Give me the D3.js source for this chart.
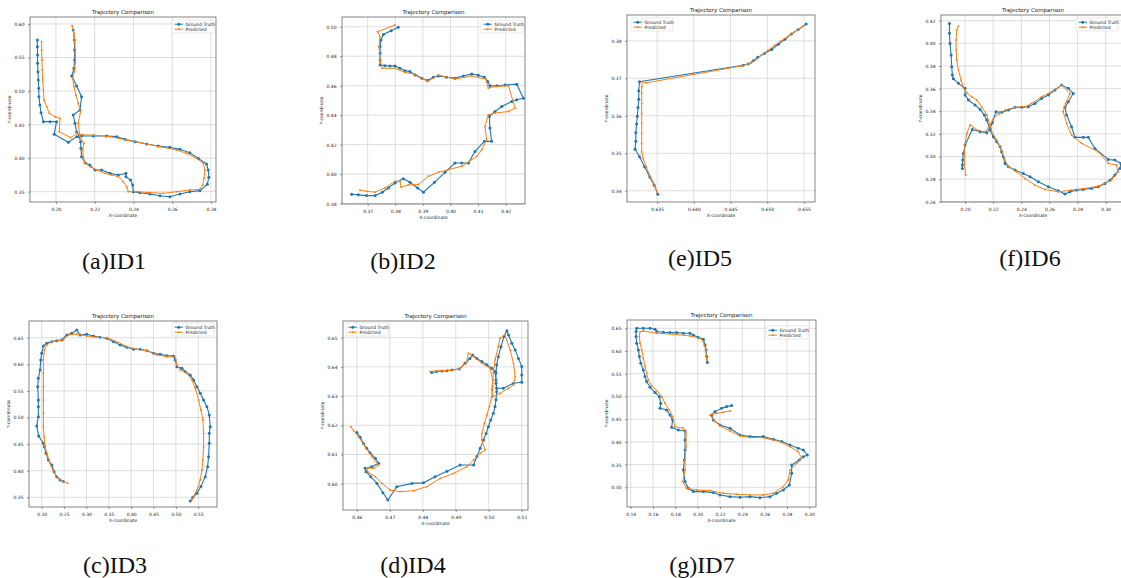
<!DOCTYPE html>
<html>
<head>
<meta charset="utf-8">
<script src="https://d3js.org/d3.v7.min.js"></script>
<title>Trajectory Comparison</title>
<style>
body { margin:0; background:#fff; overflow:hidden; }
svg { display:block; }
.tick text { font-family:"DejaVu Sans", sans-serif; font-size:4.5px; fill:#222; }
.caption { font-family:"Liberation Serif", "Times New Roman", serif; font-size:24px; fill:#111; }
</style>
</head>
<body>
<svg width="1121" height="578"></svg>
<script>

// ---- ID1 ----
let id1XTicks = ["0.20","0.22","0.24","0.26","0.28"];
let id1YTicks = ["0.35","0.40","0.45","0.50","0.55","0.60"];
let id1XLim = [0.1866, 0.2826];
let id1YLim = [0.3346, 0.6104];
let id1Truth = [[0.1904,0.5761],[0.1904,0.5662],[0.1905,0.5538],[0.1905,0.5413],[0.1907,0.5289],[0.1909,0.5165],[0.1911,0.5041],[0.1912,0.4916],[0.1917,0.4792],[0.1923,0.4678],[0.1935,0.4544],[0.1969,0.4544],[0.2003,0.4544],[0.1991,0.4355],[0.2064,0.4236],[0.2107,0.4320],[0.2132,0.4330],[0.2193,0.4330],[0.2261,0.4330],[0.2313,0.4320],[0.2356,0.4280],[0.2408,0.4246],[0.2468,0.4211],[0.2528,0.4181],[0.2588,0.4161],[0.2640,0.4131],[0.2691,0.4081],[0.2734,0.3997],[0.2777,0.3913],[0.2786,0.3823],[0.2789,0.3714],[0.2781,0.3609],[0.2743,0.3515],[0.2691,0.3500],[0.2640,0.3465],[0.2588,0.3425],[0.2537,0.3440],[0.2485,0.3465],[0.2433,0.3485],[0.2399,0.3500],[0.2396,0.3599],[0.2385,0.3674],[0.2361,0.3724],[0.2361,0.3773],[0.2322,0.3749],[0.2279,0.3773],[0.2236,0.3823],[0.2201,0.3823],[0.2175,0.3898],[0.2150,0.3932],[0.2132,0.4022],[0.2129,0.4146],[0.2127,0.4246],[0.2120,0.4320],[0.2107,0.4390],[0.2098,0.4519],[0.2089,0.4643],[0.2124,0.4718],[0.2132,0.4916],[0.2107,0.5075],[0.2081,0.5225],[0.2093,0.5339],[0.2096,0.5463],[0.2096,0.5612],[0.2095,0.5761],[0.2089,0.5910]];
let id1Pred = [[0.1926,0.5737],[0.1926,0.5612],[0.1928,0.5463],[0.1929,0.5314],[0.1931,0.5165],[0.1935,0.5016],[0.1938,0.4867],[0.1952,0.4767],[0.1966,0.4668],[0.1995,0.4618],[0.2021,0.4593],[0.2017,0.4395],[0.2076,0.4305],[0.2107,0.4370],[0.2141,0.4345],[0.2193,0.4345],[0.2279,0.4320],[0.2365,0.4270],[0.2451,0.4221],[0.2537,0.4171],[0.2623,0.4121],[0.2674,0.4072],[0.2726,0.3997],[0.2760,0.3922],[0.2769,0.3823],[0.2764,0.3699],[0.2757,0.3599],[0.2743,0.3535],[0.2691,0.3525],[0.2623,0.3500],[0.2554,0.3475],[0.2485,0.3485],[0.2416,0.3500],[0.2373,0.3500],[0.2365,0.3575],[0.2347,0.3649],[0.2322,0.3724],[0.2287,0.3749],[0.2253,0.3773],[0.2210,0.3823],[0.2175,0.3873],[0.2150,0.3922],[0.2141,0.4022],[0.2138,0.4121],[0.2144,0.4221],[0.2124,0.4320],[0.2115,0.4519],[0.2127,0.4693],[0.2115,0.4817],[0.2103,0.4941],[0.2093,0.5066],[0.2086,0.5190],[0.2095,0.5289],[0.2100,0.5413],[0.2100,0.5563],[0.2098,0.5712],[0.2093,0.5861],[0.2083,0.5975]];

// ---- ID2 ----
let id2XTicks = ["0.37","0.38","0.39","0.40","0.41","0.42"];
let id2YTicks = ["0.38","0.40","0.42","0.44","0.46","0.48","0.50"];
let id2XLim = [0.3607, 0.4270];
let id2YLim = [0.3797, 0.5066];
let id2Truth = [[0.3811,0.4996],[0.3785,0.4973],[0.3757,0.4948],[0.3748,0.4910],[0.3745,0.4865],[0.3745,0.4820],[0.3745,0.4775],[0.3745,0.4741],[0.3763,0.4736],[0.3781,0.4734],[0.3799,0.4734],[0.3817,0.4718],[0.3835,0.4702],[0.3853,0.4696],[0.3872,0.4673],[0.3896,0.4651],[0.3917,0.4635],[0.3938,0.4657],[0.3956,0.4666],[0.3986,0.4657],[0.4016,0.4651],[0.4047,0.4666],[0.4077,0.4680],[0.4101,0.4671],[0.4123,0.4657],[0.4135,0.4628],[0.4143,0.4599],[0.4168,0.4599],[0.4198,0.4605],[0.4240,0.4610],[0.4264,0.4515],[0.4240,0.4504],[0.4222,0.4493],[0.4186,0.4459],[0.4161,0.4425],[0.4141,0.4391],[0.4143,0.4312],[0.4149,0.4222],[0.4123,0.4222],[0.4089,0.4154],[0.4065,0.4075],[0.4041,0.4075],[0.4016,0.4075],[0.3980,0.4012],[0.3942,0.3944],[0.3902,0.3877],[0.3881,0.3906],[0.3853,0.3944],[0.3829,0.3969],[0.3799,0.3940],[0.3775,0.3906],[0.3753,0.3877],[0.3727,0.3854],[0.3696,0.3854],[0.3666,0.3859],[0.3642,0.3863]];
let id2Pred = [[0.3799,0.5011],[0.3736,0.4966],[0.3745,0.4933],[0.3741,0.4865],[0.3745,0.4775],[0.3753,0.4718],[0.3799,0.4718],[0.3835,0.4689],[0.3872,0.4678],[0.3917,0.4628],[0.3956,0.4673],[0.4016,0.4644],[0.4077,0.4666],[0.4128,0.4644],[0.4137,0.4583],[0.4161,0.4594],[0.4210,0.4599],[0.4234,0.4447],[0.4210,0.4425],[0.4161,0.4414],[0.4137,0.4402],[0.4125,0.4323],[0.4131,0.4233],[0.4113,0.4165],[0.4095,0.4120],[0.4041,0.4053],[0.3992,0.4030],[0.3956,0.4012],[0.3920,0.3985],[0.3884,0.3929],[0.3847,0.3926],[0.3821,0.3911],[0.3817,0.3951],[0.3799,0.3951],[0.3763,0.3906],[0.3727,0.3877],[0.3696,0.3883],[0.3672,0.3890]];

// ---- ID5 ----
let id5XTicks = ["0.635","0.640","0.645","0.650","0.655"];
let id5YTicks = ["0.34","0.35","0.36","0.37","0.38"];
let id5XLim = [0.6309, 0.6565];
let id5YLim = [0.3370, 0.3869];
let id5Truth = [[0.6553,0.3845],[0.6542,0.3830],[0.6533,0.3818],[0.6524,0.3804],[0.6515,0.3791],[0.6506,0.3777],[0.6496,0.3766],[0.6487,0.3756],[0.6481,0.3747],[0.6474,0.3738],[0.6467,0.3735],[0.6326,0.3691],[0.6325,0.3667],[0.6325,0.3644],[0.6324,0.3622],[0.6323,0.3599],[0.6322,0.3578],[0.6321,0.3555],[0.6321,0.3532],[0.6320,0.3511],[0.6326,0.3491],[0.6333,0.3464],[0.6340,0.3437],[0.6346,0.3415],[0.6351,0.3391]];
let id5Pred = [[0.6549,0.3839],[0.6537,0.3824],[0.6528,0.3812],[0.6519,0.3800],[0.6510,0.3788],[0.6501,0.3775],[0.6492,0.3762],[0.6485,0.3750],[0.6478,0.3741],[0.6465,0.3733],[0.6335,0.3688],[0.6330,0.3692],[0.6329,0.3677],[0.6329,0.3660],[0.6329,0.3633],[0.6329,0.3606],[0.6329,0.3580],[0.6329,0.3553],[0.6329,0.3526],[0.6329,0.3504],[0.6331,0.3486],[0.6335,0.3464],[0.6341,0.3437],[0.6347,0.3415],[0.6350,0.3395]];

// ---- ID6 ----
let id6XTicks = ["0.20","0.22","0.24","0.26","0.28","0.30"];
let id6YTicks = ["0.26","0.28","0.30","0.32","0.34","0.36","0.38","0.40","0.42"];
let id6XLim = [0.1829, 0.3137];
let id6YLim = [0.2598, 0.4250];
let id6Truth = [[0.1889,0.4176],[0.1889,0.4088],[0.1893,0.3999],[0.1901,0.3896],[0.1905,0.3793],[0.1910,0.3719],[0.1917,0.3687],[0.1953,0.3646],[0.2000,0.3602],[0.2000,0.3543],[0.2024,0.3499],[0.2071,0.3454],[0.2107,0.3416],[0.2137,0.3366],[0.2154,0.3322],[0.2178,0.3233],[0.2201,0.3174],[0.2225,0.3130],[0.2249,0.3086],[0.2260,0.3042],[0.2272,0.2998],[0.2284,0.2939],[0.2308,0.2909],[0.2355,0.2880],[0.2414,0.2850],[0.2462,0.2821],[0.2521,0.2777],[0.2592,0.2733],[0.2663,0.2697],[0.2710,0.2668],[0.2746,0.2688],[0.2793,0.2703],[0.2840,0.2709],[0.2899,0.2718],[0.2947,0.2733],[0.2994,0.2762],[0.3030,0.2791],[0.3065,0.2836],[0.3101,0.2895],[0.3108,0.2939],[0.3065,0.2968],[0.3018,0.2974],[0.2923,0.3071],[0.2876,0.3169],[0.2840,0.3169],[0.2781,0.3169],[0.2757,0.3263],[0.2722,0.3366],[0.2710,0.3434],[0.2734,0.3484],[0.2769,0.3557],[0.2734,0.3602],[0.2686,0.3631],[0.2639,0.3587],[0.2592,0.3543],[0.2544,0.3513],[0.2497,0.3469],[0.2450,0.3440],[0.2402,0.3434],[0.2355,0.3434],[0.2308,0.3410],[0.2260,0.3390],[0.2220,0.3395],[0.2194,0.3298],[0.2178,0.3248],[0.2154,0.3210],[0.2107,0.3219],[0.2052,0.3239],[0.2000,0.3101],[0.1988,0.3027],[0.1983,0.2968],[0.1981,0.2924],[0.1981,0.2895]];
let id6Pred = [[0.1953,0.4153],[0.1941,0.4117],[0.1936,0.4029],[0.1936,0.3940],[0.1941,0.3852],[0.1953,0.3764],[0.1972,0.3675],[0.1988,0.3610],[0.2012,0.3563],[0.2047,0.3528],[0.2083,0.3499],[0.2118,0.3440],[0.2154,0.3366],[0.2178,0.3278],[0.2189,0.3219],[0.2225,0.3145],[0.2260,0.3057],[0.2284,0.2968],[0.2308,0.2909],[0.2367,0.2865],[0.2426,0.2806],[0.2497,0.2747],[0.2568,0.2709],[0.2663,0.2688],[0.2757,0.2703],[0.2852,0.2718],[0.2947,0.2738],[0.3041,0.2791],[0.3089,0.2865],[0.3077,0.2924],[0.3018,0.2939],[0.2947,0.3042],[0.2828,0.3116],[0.2757,0.3189],[0.2722,0.3292],[0.2698,0.3395],[0.2715,0.3469],[0.2746,0.3557],[0.2686,0.3631],[0.2615,0.3572],[0.2544,0.3528],[0.2473,0.3469],[0.2426,0.3440],[0.2355,0.3434],[0.2284,0.3410],[0.2237,0.3375],[0.2201,0.3337],[0.2178,0.3278],[0.2142,0.3219],[0.2095,0.3228],[0.2036,0.3278],[0.2012,0.3204],[0.2000,0.3116],[0.1995,0.3027],[0.1995,0.2939],[0.2005,0.2836]];

// ---- ID3 ----
let id3XTicks = ["0.20","0.25","0.30","0.35","0.40","0.45","0.50","0.55"];
let id3YTicks = ["0.35","0.40","0.45","0.50","0.55","0.60","0.65"];
let id3XLim = [0.1716, 0.5918];
let id3YLim = [0.3318, 0.6814];
let id3Truth = [[0.2485,0.3795],[0.2410,0.3826],[0.2336,0.3888],[0.2276,0.3982],[0.2224,0.4108],[0.2149,0.4202],[0.2097,0.4327],[0.2060,0.4452],[0.2037,0.4515],[0.1933,0.4653],[0.1888,0.4841],[0.1925,0.5016],[0.1925,0.5204],[0.1925,0.5330],[0.1910,0.5580],[0.1925,0.5737],[0.1963,0.5894],[0.1978,0.6082],[0.2000,0.6207],[0.2037,0.6345],[0.2112,0.6395],[0.2224,0.6426],[0.2336,0.6445],[0.2448,0.6458],[0.2560,0.6552],[0.2671,0.6583],[0.2783,0.6646],[0.2858,0.6552],[0.3007,0.6564],[0.3156,0.6533],[0.3306,0.6508],[0.3455,0.6489],[0.3604,0.6426],[0.3753,0.6364],[0.3902,0.6320],[0.4052,0.6282],[0.4201,0.6282],[0.4350,0.6257],[0.4499,0.6207],[0.4648,0.6188],[0.4798,0.6163],[0.4947,0.6157],[0.4984,0.6082],[0.5021,0.5956],[0.5133,0.5925],[0.5208,0.5862],[0.5320,0.5800],[0.5394,0.5706],[0.5469,0.5580],[0.5544,0.5455],[0.5618,0.5330],[0.5693,0.5204],[0.5745,0.5048],[0.5767,0.4828],[0.5745,0.4703],[0.5745,0.4515],[0.5730,0.4264],[0.5708,0.4076],[0.5655,0.3888],[0.5558,0.3701],[0.5469,0.3575],[0.5379,0.3500],[0.5320,0.3431]];
let id3Pred = [[0.2582,0.3763],[0.2485,0.3795],[0.2373,0.3857],[0.2261,0.3982],[0.2187,0.4139],[0.2127,0.4296],[0.2075,0.4452],[0.2052,0.4640],[0.2037,0.4828],[0.2037,0.5079],[0.2037,0.5330],[0.2037,0.5580],[0.2037,0.5831],[0.2037,0.6082],[0.2060,0.6270],[0.2112,0.6364],[0.2224,0.6426],[0.2373,0.6445],[0.2485,0.6458],[0.2597,0.6552],[0.2783,0.6570],[0.3007,0.6533],[0.3231,0.6508],[0.3455,0.6501],[0.3679,0.6426],[0.3902,0.6332],[0.4126,0.6282],[0.4350,0.6257],[0.4574,0.6176],[0.4798,0.6144],[0.4984,0.6132],[0.5021,0.5988],[0.5096,0.5894],[0.5245,0.5831],[0.5357,0.5706],[0.5432,0.5549],[0.5506,0.5330],[0.5558,0.5142],[0.5603,0.4954],[0.5618,0.4703],[0.5618,0.4452],[0.5603,0.4202],[0.5581,0.4014],[0.5544,0.3826],[0.5469,0.3638],[0.5394,0.3513],[0.5357,0.3450]];

// ---- ID4 ----
let id4XTicks = ["0.46","0.47","0.48","0.49","0.50","0.51"];
let id4YTicks = ["0.60","0.61","0.62","0.63","0.64","0.65"];
let id4XLim = [0.4558, 0.5119];
let id4YLim = [0.5910, 0.6557];
let id4Truth = [[0.4827,0.6381],[0.4842,0.6384],[0.4858,0.6386],[0.4873,0.6387],[0.4888,0.6389],[0.4911,0.6393],[0.4928,0.6412],[0.4943,0.6429],[0.4951,0.6441],[0.4964,0.6429],[0.4979,0.6418],[0.4994,0.6407],[0.5009,0.6395],[0.5019,0.6384],[0.5022,0.6355],[0.5024,0.6327],[0.5044,0.6327],[0.5075,0.6344],[0.5100,0.6347],[0.5100,0.6372],[0.5100,0.6401],[0.5090,0.6429],[0.5080,0.6458],[0.5070,0.6481],[0.5060,0.6509],[0.5055,0.6524],[0.5046,0.6504],[0.5037,0.6469],[0.5029,0.6435],[0.5024,0.6407],[0.5022,0.6380],[0.5022,0.6344],[0.5024,0.6315],[0.5022,0.6287],[0.5019,0.6264],[0.5014,0.6241],[0.5006,0.6218],[0.4999,0.6195],[0.4992,0.6172],[0.4984,0.6150],[0.4974,0.6121],[0.4964,0.6093],[0.4954,0.6064],[0.4913,0.6064],[0.4873,0.6043],[0.4837,0.6024],[0.4802,0.6003],[0.4767,0.6001],[0.4721,0.5990],[0.4694,0.5944],[0.4679,0.5969],[0.4661,0.6001],[0.4642,0.6024],[0.4628,0.6041],[0.4625,0.6053],[0.4645,0.6058],[0.4666,0.6070],[0.4656,0.6087],[0.4640,0.6106],[0.4630,0.6121],[0.4620,0.6138],[0.4610,0.6159],[0.4600,0.6175]];
let id4Pred = [[0.4822,0.6384],[0.4842,0.6386],[0.4863,0.6387],[0.4883,0.6388],[0.4911,0.6392],[0.4933,0.6415],[0.4938,0.6447],[0.4954,0.6435],[0.4979,0.6412],[0.5004,0.6395],[0.5012,0.6355],[0.5009,0.6321],[0.5012,0.6298],[0.5034,0.6309],[0.5060,0.6327],[0.5075,0.6338],[0.5080,0.6367],[0.5075,0.6412],[0.5065,0.6458],[0.5049,0.6509],[0.5034,0.6498],[0.5029,0.6469],[0.5019,0.6424],[0.5014,0.6378],[0.5012,0.6332],[0.5009,0.6298],[0.5002,0.6264],[0.4994,0.6235],[0.4987,0.6207],[0.4979,0.6172],[0.4979,0.6150],[0.4989,0.6115],[0.4974,0.6104],[0.4954,0.6081],[0.4933,0.6058],[0.4893,0.6035],[0.4853,0.6018],[0.4812,0.5990],[0.4772,0.5976],[0.4731,0.5973],[0.4701,0.5978],[0.4676,0.6001],[0.4656,0.6024],[0.4635,0.6038],[0.4630,0.6053],[0.4651,0.6053],[0.4666,0.6064],[0.4645,0.6093],[0.4625,0.6127],[0.4605,0.6161],[0.4590,0.6182],[0.4582,0.6195]];

// ---- ID7 ----
let id7XTicks = ["0.14","0.16","0.18","0.20","0.22","0.24","0.26","0.28","0.30"];
let id7YTicks = ["0.30","0.35","0.40","0.45","0.50","0.55","0.60","0.65"];
let id7XLim = [0.1367, 0.3060];
let id7YLim = [0.2566, 0.6683];
let id7Truth = [[0.2087,0.5745],[0.2081,0.5877],[0.2075,0.6024],[0.2066,0.6134],[0.2051,0.6259],[0.2006,0.6296],[0.1961,0.6354],[0.1931,0.6391],[0.1872,0.6391],[0.1812,0.6406],[0.1752,0.6406],[0.1693,0.6413],[0.1633,0.6428],[0.1618,0.6479],[0.1573,0.6501],[0.1513,0.6501],[0.1454,0.6501],[0.1448,0.6428],[0.1448,0.6318],[0.1454,0.6171],[0.1469,0.6024],[0.1478,0.5877],[0.1490,0.5730],[0.1513,0.5584],[0.1528,0.5437],[0.1543,0.5327],[0.1573,0.5202],[0.1618,0.5085],[0.1657,0.4996],[0.1669,0.4850],[0.1663,0.4740],[0.1722,0.4703],[0.1752,0.4593],[0.1776,0.4483],[0.1767,0.4321],[0.1827,0.4262],[0.1887,0.4240],[0.1887,0.4042],[0.1887,0.3822],[0.1881,0.3602],[0.1872,0.3382],[0.1887,0.3125],[0.1916,0.2978],[0.1961,0.2905],[0.2051,0.2905],[0.2140,0.2883],[0.2200,0.2831],[0.2290,0.2794],[0.2379,0.2780],[0.2469,0.2794],[0.2558,0.2772],[0.2648,0.2794],[0.2707,0.2868],[0.2767,0.2941],[0.2821,0.3051],[0.2842,0.3308],[0.2842,0.3492],[0.2910,0.3602],[0.2946,0.3675],[0.2982,0.3712],[0.2946,0.3822],[0.2901,0.3859],[0.2827,0.3932],[0.2752,0.4006],[0.2678,0.4057],[0.2588,0.4116],[0.2469,0.4116],[0.2379,0.4152],[0.2290,0.4299],[0.2200,0.4373],[0.2140,0.4483],[0.2125,0.4593],[0.2155,0.4666],[0.2215,0.4740],[0.2260,0.4776],[0.2304,0.4798]];
let id7Pred = [[0.2081,0.5804],[0.2072,0.6024],[0.2051,0.6208],[0.2021,0.6281],[0.1931,0.6332],[0.1782,0.6369],[0.1633,0.6391],[0.1513,0.6442],[0.1484,0.6428],[0.1478,0.6318],[0.1484,0.6171],[0.1499,0.6024],[0.1513,0.5841],[0.1528,0.5657],[0.1543,0.5510],[0.1558,0.5363],[0.1588,0.5231],[0.1633,0.5129],[0.1678,0.4996],[0.1707,0.4850],[0.1746,0.4703],[0.1776,0.4556],[0.1797,0.4336],[0.1872,0.4299],[0.1896,0.4189],[0.1896,0.3895],[0.1887,0.3602],[0.1887,0.3382],[0.1866,0.3125],[0.1901,0.2978],[0.1991,0.2941],[0.2110,0.2927],[0.2230,0.2868],[0.2349,0.2846],[0.2469,0.2831],[0.2588,0.2831],[0.2678,0.2868],[0.2767,0.3015],[0.2812,0.3161],[0.2827,0.3382],[0.2887,0.3528],[0.2931,0.3639],[0.2901,0.3785],[0.2827,0.3895],[0.2737,0.4006],[0.2648,0.4057],[0.2558,0.4101],[0.2469,0.4094],[0.2379,0.4130],[0.2290,0.4240],[0.2215,0.4336],[0.2155,0.4446],[0.2110,0.4593],[0.2170,0.4629],[0.2230,0.4652],[0.2290,0.4681]];

let seriesNames = ["Ground Truth", "Predicted"];
let blue = "#1f77b4", orange = "#ff7f0e";

// layout of each subplot (box = left, top, right, bottom in px)
let panels = [
  {caption:"(a)ID1", truth:id1Truth, pred:id1Pred, xt:id1XTicks, yt:id1YTicks, xl:id1XLim, yl:id1YLim, box:[30,17,216,202], legend:[172,20], cap:[114,269]},
  {caption:"(b)ID2", truth:id2Truth, pred:id2Pred, xt:id2XTicks, yt:id2YTicks, xl:id2XLim, yl:id2YLim, box:[342,17,525,204], legend:[481,20], cap:[403,269]},
  {caption:"(e)ID5", truth:id5Truth, pred:id5Pred, xt:id5XTicks, yt:id5YTicks, xl:id5XLim, yl:id5YLim, box:[627,15,815,202], legend:[631,18], cap:[700,266]},
  {caption:"(f)ID6", truth:id6Truth, pred:id6Pred, xt:id6XTicks, yt:id6YTicks, xl:id6XLim, yl:id6YLim, box:[941,15,1125,202], legend:[1076,18], cap:[1030,266]},
  {caption:"(c)ID3", truth:id3Truth, pred:id3Pred, xt:id3XTicks, yt:id3YTicks, xl:id3XLim, yl:id3YLim, box:[29,321,217,507], legend:[172,323], cap:[115,573]},
  {caption:"(d)ID4", truth:id4Truth, pred:id4Pred, xt:id4XTicks, yt:id4YTicks, xl:id4XLim, yl:id4YLim, box:[343,321,528,510], legend:[346,323], cap:[413,573]},
  {caption:"(g)ID7", truth:id7Truth, pred:id7Pred, xt:id7XTicks, yt:id7YTicks, xl:id7XLim, yl:id7YLim, box:[627,320,816,507], legend:[766,326], cap:[702,573]}
];

let svg = d3.select("svg");

function drawPanel(p, idx) {
  let [x0, y0, x1, y1] = p.box;
  let x = d3.scaleLinear().domain(p.xl).range([x0, x1]);
  let y = d3.scaleLinear().domain(p.yl).range([y1, y0]);
  let g = svg.append("g");
  let clipId = "clip" + idx;
  g.append("clipPath").attr("id", clipId)
    .append("rect").attr("x", x0).attr("y", y0).attr("width", x1 - x0).attr("height", y1 - y0);

  // grid
  g.selectAll(".gx").data(p.xt).enter().append("line")
    .attr("x1", d => x(+d)).attr("x2", d => x(+d)).attr("y1", y0).attr("y2", y1)
    .attr("stroke", "#c8c8c8").attr("stroke-width", 0.6);
  g.selectAll(".gy").data(p.yt).enter().append("line")
    .attr("y1", d => y(+d)).attr("y2", d => y(+d)).attr("x1", x0).attr("x2", x1)
    .attr("stroke", "#c8c8c8").attr("stroke-width", 0.6);

  // axes
  let xa = d3.axisBottom(x).tickValues(p.xt.map(Number)).tickFormat((d, i) => p.xt[i]).tickSize(2).tickPadding(3.5);
  let ya = d3.axisLeft(y).tickValues(p.yt.map(Number)).tickFormat((d, i) => p.yt[i]).tickSize(2).tickPadding(3.5);
  let gx = g.append("g").attr("transform", "translate(0," + y1 + ")").call(xa);
  let gy = g.append("g").attr("transform", "translate(" + x0 + ",0)").call(ya);
  [gx, gy].forEach(a => {
    a.select(".domain").remove();
    a.selectAll(".tick line").attr("stroke", "#333").attr("stroke-width", 0.5);
  });

  // trajectories
  let line = d3.line().x(d => x(d[0])).y(d => y(d[1]));
  let plot = g.append("g").attr("clip-path", "url(#" + clipId + ")");
  plot.append("path").datum(p.truth).attr("d", line)
    .attr("fill", "none").attr("stroke", blue).attr("stroke-width", 1.1);
  plot.selectAll(".gt").data(p.truth).enter().append("circle")
    .attr("cx", d => x(d[0])).attr("cy", d => y(d[1])).attr("r", 1.5).attr("fill", blue);
  plot.append("path").datum(p.pred).attr("d", line)
    .attr("fill", "none").attr("stroke", orange).attr("stroke-width", 1);
  plot.selectAll(".pr").data(p.pred).enter().append("circle")
    .attr("cx", d => x(d[0])).attr("cy", d => y(d[1])).attr("r", 0.95).attr("fill", orange);

  // frame
  g.append("rect").attr("x", x0).attr("y", y0).attr("width", x1 - x0).attr("height", y1 - y0)
    .attr("fill", "none").attr("stroke", "#333").attr("stroke-width", 0.6);

  // title and labels
  g.append("text").attr("x", (x0 + x1) / 2).attr("y", y0 - 3).attr("text-anchor", "middle")
    .style("font-family", "DejaVu Sans").style("font-size", "5.5px").attr("fill", "#222")
    .text("Trajectory Comparison");
  g.append("text").attr("x", (x0 + x1) / 2).attr("y", y1 + 14.5).attr("text-anchor", "middle")
    .style("font-family", "DejaVu Sans").style("font-size", "4.5px").attr("fill", "#222")
    .text("X-coordinate");
  g.append("text").attr("transform", "translate(" + (x0 - 19) + "," + ((y0 + y1) / 2) + ") rotate(-90)")
    .attr("text-anchor", "middle")
    .style("font-family", "DejaVu Sans").style("font-size", "4.5px").attr("fill", "#222")
    .text("Y-coordinate");

  // legend
  let [lx, ly] = p.legend;
  let lg = g.append("g").attr("transform", "translate(" + lx + "," + ly + ")");
  lg.append("rect").attr("width", 42).attr("height", 13).attr("rx", 1)
    .attr("fill", "white").attr("fill-opacity", 0.85).attr("stroke", "#d0d0d0").attr("stroke-width", 0.5);
  [[blue, 1.5], [orange, 0.95]].forEach((s, i) => {
    let yy = 4.2 + i * 5;
    lg.append("line").attr("x1", 2.5).attr("x2", 11).attr("y1", yy).attr("y2", yy)
      .attr("stroke", s[0]).attr("stroke-width", 1);
    lg.append("circle").attr("cx", 6.75).attr("cy", yy).attr("r", s[1]).attr("fill", s[0]);
    lg.append("text").attr("x", 13.5).attr("y", yy + 1.6)
      .style("font-family", "DejaVu Sans").style("font-size", "4.5px").attr("fill", "#222")
      .text(seriesNames[i]);
  });

  // caption
  svg.append("text").attr("class", "caption").attr("x", p.cap[0]).attr("y", p.cap[1])
    .attr("text-anchor", "middle").text(p.caption);
}

panels.forEach(drawPanel);

</script>
</body>
</html>
